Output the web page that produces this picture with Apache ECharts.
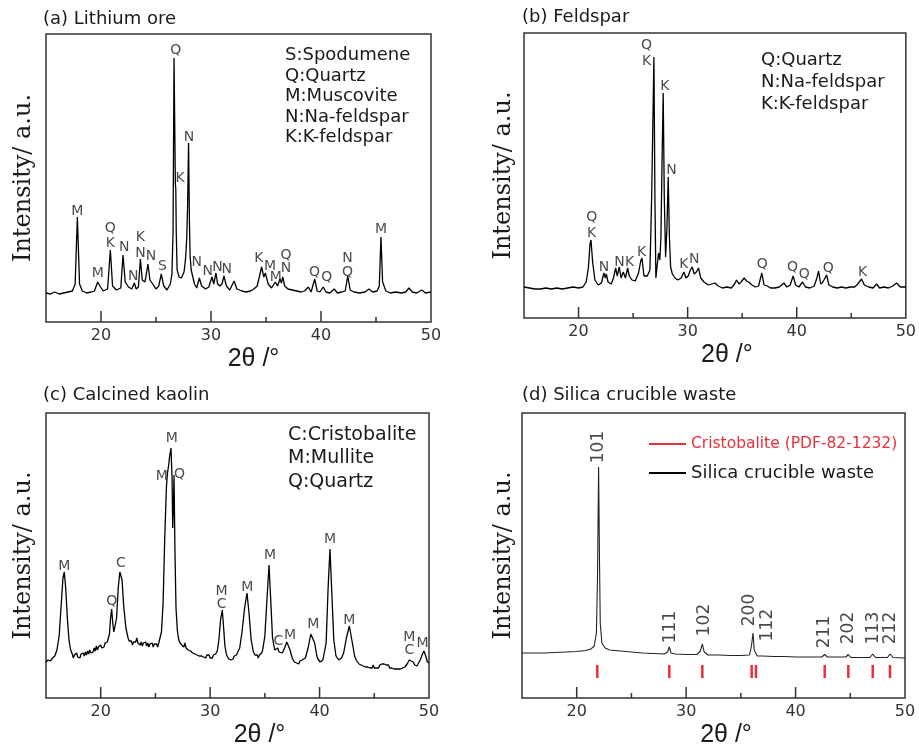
<!DOCTYPE html>
<html>
<head>
<meta charset="utf-8">
<script src="https://cdn.jsdelivr.net/npm/echarts@6/dist/echarts.min.js"></script>
<style>
html,body{margin:0;padding:0;background:#fff;}
#chart{width:919px;height:751px;}
</style>
</head>
<body>
<div id="chart"></div>
<script>
// ---------- data (2θ in degrees, intensity in arbitrary units) ----------
const X_MIN = 15, X_MAX = 50;
const AXIS_TICKS = [20, 25, 30, 35, 40, 45];

// (a) Lithium ore
const lithiumOre = [
[15.0,29],[15.4,28],[15.8,30],[16.2,28],[16.6,29],[17.0,30],[17.4,31],[17.65,38],[17.85,105],[18.05,38],[18.3,31],[18.7,29],[19.1,30],[19.4,31],[19.7,40],[19.9,36],[20.2,31],[20.6,33],[20.85,72],[21.05,36],[21.4,32],[21.8,34],[22.0,67],[22.2,40],[22.5,35],[22.8,33],[23.03,39],[23.2,33],[23.4,35],[23.58,63],[23.75,42],[24.0,40],[24.27,58],[24.45,42],[24.7,38],[25.0,33],[25.25,36],[25.48,48],[25.7,36],[26.0,32],[26.3,38],[26.45,48],[26.55,90],[26.64,264],[26.72,180],[26.76,138],[26.8,133],[26.84,90],[26.92,52],[27.1,45],[27.3,44],[27.55,50],[27.7,65],[27.8,85],[27.88,120],[27.96,179],[28.04,100],[28.1,66],[28.2,52],[28.35,45],[28.5,38],[28.7,34],[28.94,44],[29.15,36],[29.5,33],[29.8,35],[30.09,45],[30.25,38],[30.45,49],[30.6,38],[30.8,36],[31.0,38],[31.18,46],[31.4,36],[31.7,32],[32.1,41],[32.35,33],[32.8,31],[33.2,30],[33.6,31],[33.9,33],[34.2,36],[34.6,55],[34.8,45],[34.94,49],[35.2,38],[35.5,34],[35.85,40],[36.05,36],[36.27,43],[36.4,39],[36.52,45],[36.7,36],[37.0,33],[37.4,32],[37.8,31],[38.2,30],[38.5,31],[38.85,35],[39.1,30],[39.43,43],[39.65,31],[39.9,30],[40.2,35],[40.45,30],[40.8,29],[41.2,33],[41.5,29],[41.9,30],[42.2,31],[42.43,46],[42.65,32],[43.0,30],[43.5,29],[44.0,30],[44.36,33],[44.7,30],[45.1,31],[45.3,36],[45.45,85],[45.6,40],[45.7,38],[45.9,31],[46.3,29],[46.8,30],[47.3,29],[47.7,30],[48.0,34],[48.3,30],[48.7,29],[49.15,32],[49.5,29],[50.0,30]
];
const lithiumLabels = [
[17.85,111,'M'],[19.7,49,'M'],[20.85,94,'Q'],[20.85,79,'K'],[22.12,75,'N'],[22.94,46,'N'],[23.58,85,'K'],[23.58,69,'N'],[24.55,66,'N'],[25.58,56,'S'],[26.79,272,'Q'],[27.18,144,'K'],[28.0,185,'N'],[28.7,60,'N'],[29.7,51,'N'],[30.58,55,'N'],[31.42,53,'N'],[34.36,64,'K'],[35.36,56,'M'],[35.88,45,'M'],[36.82,67,'Q'],[36.82,54,'N'],[39.42,50,'Q'],[40.52,45,'Q'],[42.4,64,'N'],[42.4,50,'Q'],[45.45,93,'M']
];
const lithiumLegend = ['S:Spodumene','Q:Quartz','M:Muscovite','N:Na-feldspar','K:K-feldspar'];

// (b) Feldspar
const feldspar = [
[15,31],[15.5,30],[16,29],[16.5,29],[17,30],[17.5,29],[18,30],[18.5,29],[19,30],[19.5,31],[20,30],[20.4,31],[20.7,36],[20.9,50],[21.05,74],[21.14,78],[21.3,55],[21.5,38],[21.8,33],[22.1,35],[22.25,42],[22.33,45],[22.45,40],[22.55,44],[22.7,36],[23.0,34],[23.2,40],[23.4,50],[23.55,42],[23.73,51],[23.9,40],[24.1,46],[24.3,40],[24.5,50],[24.65,42],[24.9,38],[25.2,37],[25.5,45],[25.7,57],[25.81,60],[26.0,42],[26.3,42],[26.545,48],[26.7,120],[26.91,261],[27.0,120],[27.09,40],[27.2,52],[27.34,65],[27.45,58],[27.55,80],[27.66,160],[27.76,225],[27.86,120],[27.98,61],[28.1,90],[28.22,141],[28.33,80],[28.44,51],[28.6,44],[28.84,40],[29.1,38],[29.4,40],[29.66,46],[29.85,40],[30.05,42],[30.25,48],[30.42,51],[30.6,44],[30.8,46],[31.0,50],[31.2,40],[31.5,36],[31.9,33],[32.2,34],[32.5,35],[32.8,32],[33.2,30],[33.6,31],[34.0,30],[34.3,34],[34.48,38],[34.7,34],[34.9,36],[35.18,40],[35.4,37],[35.6,36],[35.9,33],[36.2,31],[36.5,32],[36.8,45],[37.0,33],[37.3,32],[37.6,30],[38.0,30],[38.4,31],[38.82,35],[39.1,31],[39.4,33],[39.67,42],[39.9,33],[40.2,31],[40.53,36],[40.8,31],[41.2,30],[41.6,32],[41.85,40],[42.0,47],[42.2,34],[42.4,36],[42.74,43],[42.95,33],[43.3,31],[43.7,30],[44.1,31],[44.5,30],[44.9,31],[45.3,31],[45.6,34],[45.94,39],[46.2,33],[46.6,31],[47.0,30],[47.32,34],[47.6,30],[48.0,31],[48.4,30],[48.8,32],[49.15,35],[49.5,31],[50,31]
];
const feldsparLabels = [
[21.2,101,'Q'],[21.2,85,'K'],[22.33,51,'N'],[23.76,56,'N'],[24.68,56,'K'],[25.78,66,'K'],[26.24,273,'Q'],[26.24,257,'K'],[27.92,232,'K'],[28.53,148,'N'],[29.66,54,'K'],[30.6,59,'N'],[36.83,54,'Q'],[39.61,51,'Q'],[40.68,44,'Q'],[42.88,50,'Q'],[46.03,46,'K']
];
const feldsparLegend = ['Q:Quartz','N:Na-feldspar','K:K-feldspar'];

// (c) Calcined kaolin
const kaolin = [
[15.0,36],[15.2,38],[15.4,37],[15.6,40],[15.8,42],[16.0,48],[16.2,62],[16.4,95],[16.55,120],[16.67,126],[16.8,110],[16.95,80],[17.1,58],[17.25,48],[17.4,44],[17.5,40],[17.6,43],[17.7,41],[17.8,45],[17.9,41],[18.0,43],[18.1,40],[18.2,44],[18.3,42],[18.4,45],[18.5,42],[18.6,46],[18.7,43],[18.8,47],[18.9,44],[19.0,48],[19.1,45],[19.2,47],[19.3,46],[19.4,50],[19.5,47],[19.6,52],[19.7,48],[19.8,51],[19.9,49],[20.0,53],[20.1,50],[20.2,52],[20.3,51],[20.4,55],[20.5,53],[20.6,56],[20.7,58],[20.8,64],[20.9,80],[21.0,89],[21.1,75],[21.2,66],[21.31,64],[21.45,80],[21.6,110],[21.75,126],[21.85,128],[21.95,118],[22.1,92],[22.3,70],[22.5,60],[22.6,57],[22.7,55],[22.8,57],[22.9,53],[23.0,56],[23.1,54],[23.2,56],[23.3,60],[23.4,55],[23.5,56],[23.6,53],[23.7,56],[23.8,52],[23.9,55],[24.0,53],[24.1,56],[24.2,52],[24.3,55],[24.4,51],[24.5,54],[24.6,52],[24.7,55],[24.8,51],[24.9,54],[25.0,52],[25.1,54],[25.2,51],[25.3,55],[25.4,57],[25.55,66],[25.7,95],[25.85,160],[26.0,210],[26.1,225],[26.2,232],[26.3,242],[26.42,250],[26.52,220],[26.58,170],[26.64,190],[26.7,223],[26.78,150],[26.88,90],[27.0,68],[27.1,60],[27.2,56],[27.3,58],[27.4,53],[27.5,55],[27.6,51],[27.7,55],[27.8,50],[27.9,52],[28.0,48],[28.1,50],[28.2,47],[28.3,49],[28.4,45],[28.5,47],[28.6,44],[28.7,46],[28.8,43],[28.9,45],[29.0,42],[29.1,44],[29.2,42],[29.3,44],[29.4,41],[29.5,43],[29.6,40],[29.7,43],[29.8,41],[29.9,43],[30.0,40],[30.1,42],[30.2,40],[30.3,43],[30.4,41],[30.5,44],[30.65,47],[30.8,58],[30.95,78],[31.11,88],[31.2,75],[31.35,52],[31.5,43],[31.6,41],[31.7,39],[31.8,41],[31.9,38],[32.0,40],[32.1,39],[32.2,42],[32.3,40],[32.4,43],[32.5,44],[32.7,50],[32.9,65],[33.15,90],[33.37,105],[33.55,85],[33.75,58],[33.95,46],[34.1,43],[34.2,41],[34.3,43],[34.4,40],[34.5,43],[34.6,42],[34.7,45],[34.8,48],[35.0,62],[35.2,100],[35.38,133],[35.55,95],[35.7,60],[35.9,48],[36.0,50],[36.17,50],[36.3,46],[36.45,47],[36.6,45],[36.8,50],[37.0,56],[37.11,57],[37.3,48],[37.5,40],[37.6,38],[37.7,36],[37.8,38],[37.9,35],[38.0,37],[38.1,34],[38.2,37],[38.3,35],[38.4,38],[38.5,37],[38.7,40],[38.95,50],[39.2,64],[39.37,66],[39.55,55],[39.75,42],[39.85,39],[39.95,38],[40.05,36],[40.2,37],[40.3,38],[40.4,40],[40.6,55],[40.78,110],[40.95,149],[41.1,110],[41.3,58],[41.5,42],[41.6,40],[41.75,38],[41.85,40],[42.0,40],[42.2,45],[42.45,60],[42.72,72],[42.95,58],[43.2,42],[43.35,38],[43.5,36],[43.6,34],[43.7,36],[43.8,33],[43.9,35],[44.0,32],[44.1,34],[44.2,31],[44.3,33],[44.4,31],[44.5,33],[44.6,30],[44.7,32],[44.8,30],[44.9,33],[45.0,30],[45.1,32],[45.2,30],[45.3,32],[45.4,30],[45.5,33],[45.6,31],[45.7,34],[45.8,32],[45.9,34],[46.0,32],[46.1,33],[46.2,31],[46.3,33],[46.4,30],[46.5,32],[46.6,30],[46.7,32],[46.8,29],[46.9,31],[47.0,29],[47.1,31],[47.2,29],[47.3,31],[47.4,29],[47.5,31],[47.6,30],[47.7,32],[47.8,31],[47.9,33],[48.0,34],[48.1,36],[48.2,38],[48.35,40],[48.55,36],[48.7,33],[48.8,34],[48.9,32],[49.0,34],[49.2,38],[49.4,44],[49.54,47],[49.7,42],[49.85,36],[50.0,35]
];
const kaolinLabels = [
[16.67,132,'M'],[21.0,97,'Q'],[21.85,135,'C'],[25.57,222,'M'],[26.49,260,'M'],[27.19,224,'Q'],[31.05,107,'M'],[31.05,94,'C'],[33.4,111,'M'],[35.47,143,'M'],[36.23,57,'C'],[37.3,63,'M'],[39.43,74,'M'],[40.95,159,'M'],[42.72,78,'M'],[48.2,61,'M'],[48.2,48,'C'],[49.42,55,'M']
];
const kaolinLegend = ['C:Cristobalite','M:Mullite','Q:Quartz'];

// (d) Silica crucible waste
const crucible = [
[15,45],[16,45],[17,45],[18,45.5],[19,46],[20,46.5],[20.8,47.5],[21.3,49],[21.6,52],[21.8,65],[21.9,120],[22.0,231],[22.08,140],[22.15,75],[22.3,55],[22.6,50],[23.0,48],[24,47],[25,46],[26,45],[27,44.5],[28.0,44],[28.3,46],[28.46,51],[28.62,45],[29,44],[30,43.5],[31.0,43.5],[31.3,47],[31.48,54],[31.65,46],[32,43],[33,43],[34,42.5],[35,42.5],[35.8,43],[35.98,53],[36.11,65],[36.22,48],[36.33,47],[36.5,42],[37,42],[38,41.5],[39,41.5],[40,41],[41,41],[42.4,41],[42.66,43.5],[42.9,41],[44.6,41],[44.82,43.5],[45.05,40.5],[46.8,40.5],[47.05,44],[47.3,40.5],[48.4,40.5],[48.63,44],[48.9,40.5],[50,40]
];
const crucibleLabels = [
[22.03,251,'101'],[28.61,71,'111'],[31.66,78,'102'],[35.77,88,'200'],[37.42,73,'112'],[42.63,66,'211'],[44.82,70,'202'],[47.1,70,'113'],[48.69,70,'212']
];
const cristobalitePDF = [21.88, 28.46, 31.48, 35.99, 36.38, 42.66, 44.82, 47.05, 48.63];

const panelTitles = ['(a) Lithium ore', '(b) Feldspar', '(c) Calcined kaolin', '(d) Silica crucible waste'];

// ---------- layout ----------
const grids = [
  {left:46, top:34, width:385, height:288, ymax:288, nameShift:30, yGap:10},
  {left:524, top:33, width:382, height:285, ymax:285, nameShift:24, yGap:8},
  {left:46, top:413, width:383, height:285, ymax:285, nameShift:44, yGap:10},
  {left:522, top:413, width:383, height:285, ymax:285, nameShift:25, yGap:6}
];
const SANS = 'DejaVu Sans';
const TXT = '#1a1a1a';

const chart = echarts.init(document.getElementById('chart'), null, {renderer:'canvas'});

const option = {
  animation:false,
  backgroundColor:'#fff',
  title:[],
  grid:[], xAxis:[], yAxis:[], series:[],
  legend:{
    orient:'vertical', left:649, top:436, padding:0, itemGap:12,
    itemWidth:37, itemHeight:2, icon:'rect',
    textStyle:{fontFamily:SANS},
    data:[
      {name:'Cristobalite (PDF-82-1232)', textStyle:{color:'#e8303a', fontSize:15.5, fontFamily:SANS}},
      {name:'Silica crucible waste', textStyle:{color:TXT, fontSize:18, fontFamily:SANS}}
    ]
  }
};

const titlePos = [[43,9],[522,7],[43,385],[522,385]];
panelTitles.forEach((t,i)=>{
  option.title.push({text:t, left:titlePos[i][0], top:titlePos[i][1], padding:0,
    textStyle:{fontFamily:SANS, fontSize:18, fontWeight:'normal', color:TXT, lineHeight:20}});
});
option.title.push({text:lithiumLegend.join('\n'), left:285, top:45, padding:0,
  textStyle:{fontFamily:SANS, fontSize:18, fontWeight:'normal', color:TXT, lineHeight:20.6}});
option.title.push({text:feldsparLegend.join('\n'), left:761, top:49, padding:0,
  textStyle:{fontFamily:SANS, fontSize:18, fontWeight:'normal', color:TXT, lineHeight:22}});
option.title.push({text:kaolinLegend.join('\n'), left:288, top:423, padding:0,
  textStyle:{fontFamily:SANS, fontSize:19, fontWeight:'normal', color:TXT, lineHeight:23.6}});

function tickRender(params, api){
  const cs = params.coordSys;
  const x = api.value(0);
  const px = api.coord([x, 0])[0];
  const bottom = cs.y + cs.height;
  const len = (x % 10 === 0) ? 11 : 5;
  return {type:'line', shape:{x1:px, y1:bottom, x2:px, y2:bottom-len},
    style:{stroke:'#333', lineWidth:1.5}};
}
function pdfRender(params, api){
  const x = api.value(0);
  const p1 = api.coord([x, 20]);
  const p2 = api.coord([x, 33]);
  return {type:'line', shape:{x1:p1[0], y1:p1[1], x2:p2[0], y2:p2[1]},
    style:{stroke:'#e8303a', lineWidth:2.5}};
}

const curves = [lithiumOre, feldspar, kaolin, crucible];
const labels = [lithiumLabels, feldsparLabels, kaolinLabels, crucibleLabels];

grids.forEach((g,i)=>{
  option.grid.push({left:g.left, top:g.top, width:g.width, height:g.height,
    show:true, borderColor:'#333', borderWidth:1.5, backgroundColor:'transparent'});
  option.xAxis.push({
    type:'value', gridIndex:i, min:X_MIN, max:X_MAX, interval:5,
    axisLine:{show:false}, axisTick:{show:false}, splitLine:{show:false},
    axisLabel:{margin:6, fontFamily:SANS, fontSize:16, color:'#333',
      formatter:v=> (v % 10 === 0 ? String(v) : '')},
    name:'2θ /°', nameLocation:'middle', nameGap:25,
    nameTextStyle:{fontFamily:'Liberation Sans', fontSize:25, color:TXT, padding:[0,0,0,g.nameShift]}
  });
  option.yAxis.push({
    type:'value', gridIndex:i, min:0, max:g.ymax,
    axisLine:{show:false}, axisTick:{show:false}, axisLabel:{show:false}, splitLine:{show:false},
    name:'Intensity/ a.u.', nameLocation:'middle', nameGap:g.yGap,
    nameTextStyle:{fontFamily:'DejaVu Serif', fontSize:24, color:TXT}
  });
  option.series.push({
    type:'line', name: i===3 ? 'Silica crucible waste' : panelTitles[i],
    xAxisIndex:i, yAxisIndex:i, data:curves[i], showSymbol:false, symbol:'none',
    lineStyle:{color: i===3 ? '#222' : '#000', width: i===3 ? 1.1 : 1.3},
    itemStyle:{color:'#000'}, z:3
  });
  option.series.push({
    type:'scatter', xAxisIndex:i, yAxisIndex:i, symbolSize:1,
    itemStyle:{color:'rgba(0,0,0,0)'},
    data:labels[i],
    label:{show:true, position:'inside', formatter:p=>p.value[2],
      rotate: i===3 ? 90 : 0,
      fontFamily:SANS, fontSize: i===3 ? 17 : 14, color:TXT},
    z:4
  });
  option.series.push({
    type:'custom', xAxisIndex:i, yAxisIndex:i, renderItem:tickRender,
    data:AXIS_TICKS.map(t=>[t,0]), silent:true, z:5
  });
});
option.series.push({
  type:'custom', name:'Cristobalite (PDF-82-1232)', xAxisIndex:3, yAxisIndex:3,
  renderItem:pdfRender, itemStyle:{color:'#e8303a'},
  data:cristobalitePDF.map(x=>[x,0]), z:4
});

chart.setOption(option);
</script>
</body>
</html>
